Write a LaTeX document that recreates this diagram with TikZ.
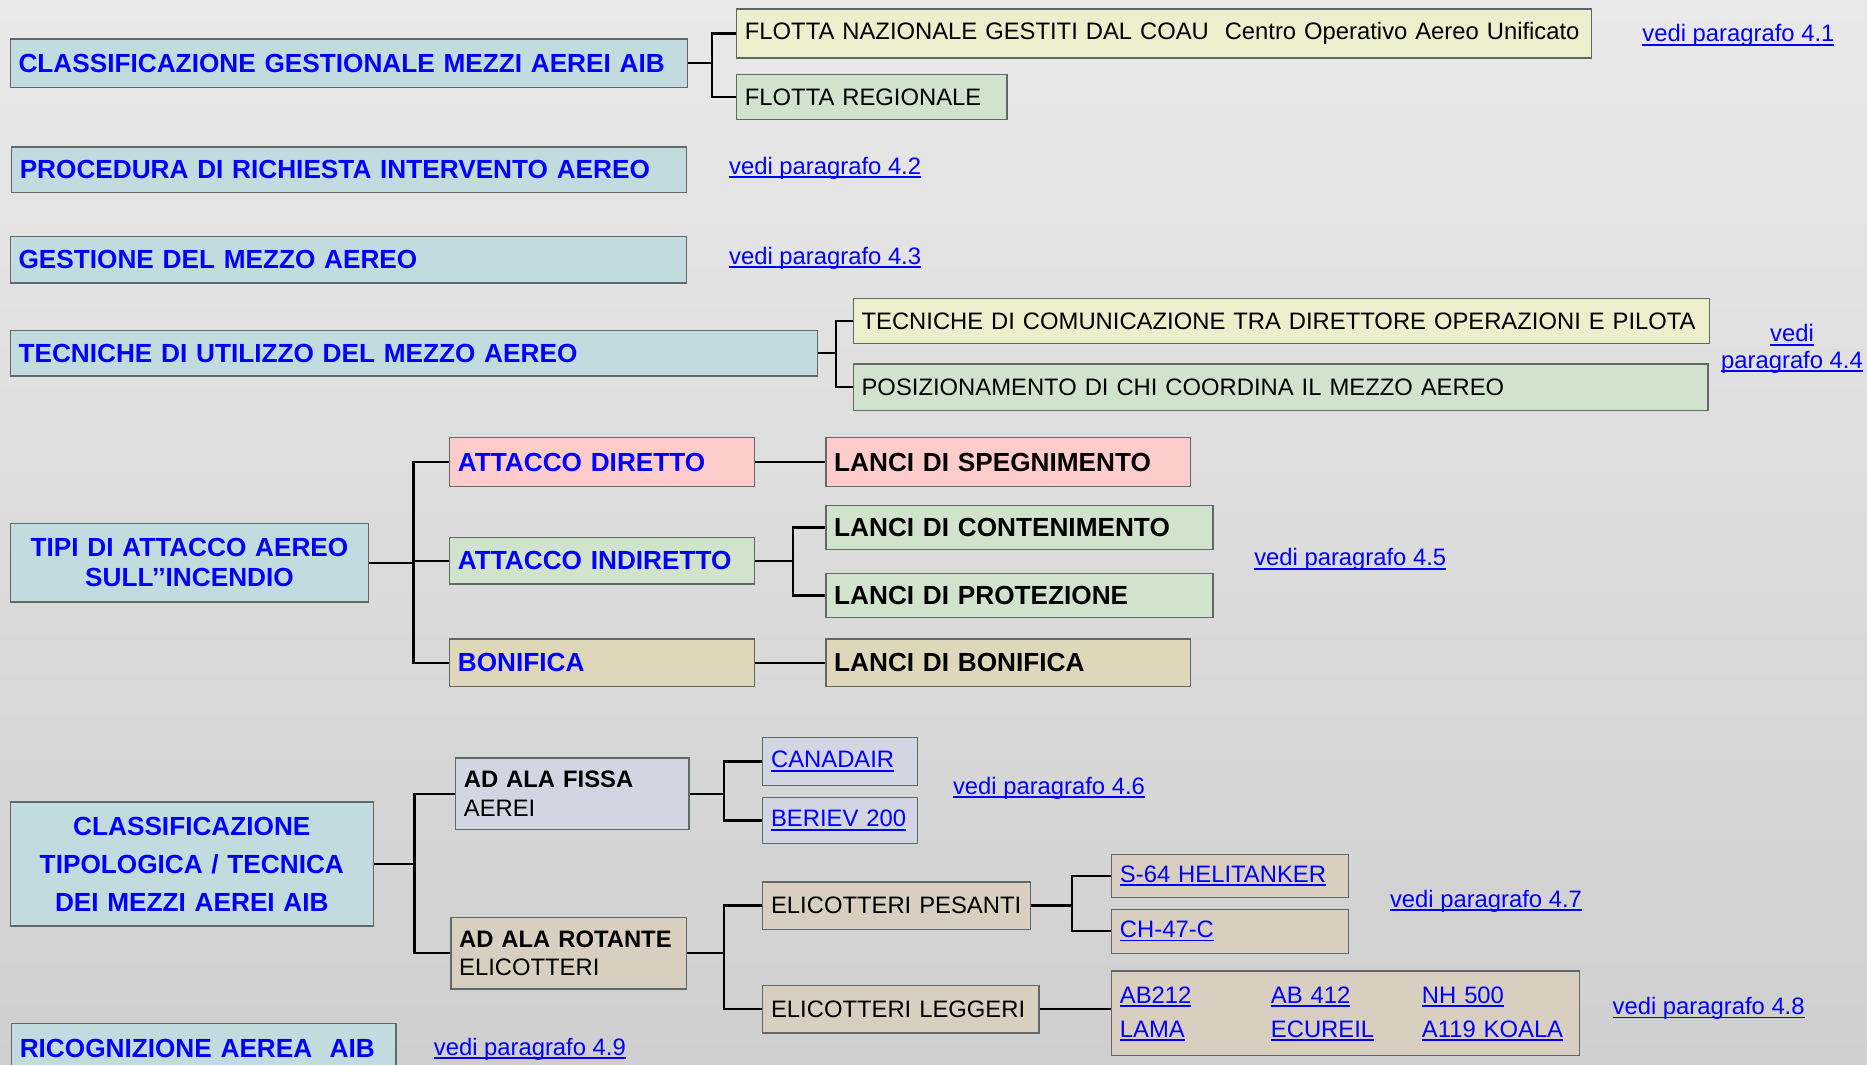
\documentclass[tikz,border=0pt]{standalone}
\usepackage{fontspec}
\setmainfont{Liberation Sans}
\definecolor{aibblue}{RGB}{0,0,255}
\definecolor{headfill}{RGB}{193,219,223}
\definecolor{boxline}{RGB}{96,104,104}
\definecolor{paleyellow}{RGB}{235,239,203}
\definecolor{palegreen}{RGB}{209,226,205}
\definecolor{palepink}{RGB}{255,204,204}
\definecolor{paletan}{RGB}{223,215,186}
\definecolor{palelilac}{RGB}{211,213,226}
\definecolor{palesand}{RGB}{216,207,192}
\definecolor{bgtop}{RGB}{233,233,233}
\definecolor{bgbottom}{RGB}{207,207,207}
\newcommand{\lnk}[1]{\leavevmode\setbox0=\hbox{#1}\rlap{\rule[-1.6pt]{\wd0}{0.8pt}}\box0}

\begin{document}
\begin{tikzpicture}[x=0.5pt,y=-0.5pt,
  box/.style={draw=boxline,line width=0.6pt,anchor=north west,inner xsep=3.5pt,
    inner ysep=0pt,align=left},
  head/.style={box,fill=headfill,text=aibblue,font=\bfseries\fontsize{11}{13}\selectfont},
  plainbox/.style={box,font=\fontsize{10}{12}\selectfont},
  boldbox/.style={box,font=\bfseries\fontsize{11}{13}\selectfont},
  dims/.style 2 args={minimum width=#1,minimum height=#2,text width=#1-7pt},
  reflink/.style={inner sep=0pt,anchor=west,text=aibblue,font=\fontsize{10}{11}\selectfont},
  conn/.style={line width=1pt}]
  % Background
  \useasboundingbox (0,0) rectangle (1568,894);
  \shade[top color=bgtop,bottom color=bgbottom] (0,0) rectangle (1568,894);
  \clip (0,0) rectangle (1568,894);
  % Management classes
  \node[head,dims={284.5pt}{20.5pt}] (cgest) at (8,32) {CLASSIFICAZIONE GESTIONALE MEZZI AEREI AIB};
  \node[plainbox,fill=paleyellow,dims={359pt}{20.5pt}] (fnaz) at (618,7)
    {FLOTTA NAZIONALE GESTITI DAL COAU~ Centro Operativo Aereo Unificato};
  \node[plainbox,fill=palegreen,dims={113.5pt}{19pt}] (freg) at (618,62) {FLOTTA REGIONALE};
  \node[reflink] (v41) at (1379,30) {\lnk{vedi paragrafo 4.1}};
  % Request and management
  \node[head,dims={283.5pt}{19pt}] (proc) at (9,123) {PROCEDURA DI RICHIESTA INTERVENTO AEREO};
  \node[reflink] (v42) at (612,141) {\lnk{vedi paragrafo 4.2}};
  \node[head,dims={284pt}{19.5pt}] (gest) at (8,198) {GESTIONE DEL MEZZO AEREO};
  \node[reflink] (v43) at (612,217) {\lnk{vedi paragrafo 4.3}};
  % Techniques
  \node[head,dims={339pt}{19pt}] (tecn) at (8,277) {TECNICHE DI UTILIZZO DEL MEZZO AEREO};
  \node[plainbox,fill=paleyellow,dims={359.5pt}{19pt}] (tcom) at (716,250)
    {TECNICHE DI COMUNICAZIONE TRA DIRETTORE OPERAZIONI E PILOTA};
  \node[plainbox,fill=palegreen,dims={359pt}{19.5pt}] (tpos) at (716,305)
    {POSIZIONAMENTO DI CHI COORDINA IL MEZZO AEREO};
  \node[reflink,anchor=center,align=center] (v44) at (1505,293) {\lnk{vedi}\\\lnk{paragrafo 4.4}};
  % Attack types
  \node[head,align=center,font=\bfseries\fontsize{11}{12.5}\selectfont,dims={150.5pt}{33pt}]
    (tipi) at (8,439) {TIPI DI ATTACCO AEREO\\SULL’{}’INCENDIO};
  \node[head,fill=palepink,dims={128pt}{20.5pt}] (adir) at (377,367) {ATTACCO DIRETTO};
  \node[head,fill=palegreen,dims={128pt}{19.5pt}] (aind) at (377,451) {ATTACCO INDIRETTO};
  \node[head,fill=paletan,dims={128pt}{20pt}] (bonif) at (377,536) {BONIFICA};
  \node[boldbox,fill=palepink,dims={153pt}{20.5pt}] (lspeg) at (693,367) {LANCI DI SPEGNIMENTO};
  \node[boldbox,fill=palegreen,dims={162.5pt}{18.5pt}] (lcont) at (693,424) {LANCI DI CONTENIMENTO};
  \node[boldbox,fill=palegreen,dims={162.5pt}{18.5pt}] (lprot) at (693,481) {LANCI DI PROTEZIONE};
  \node[boldbox,fill=paletan,dims={153pt}{20pt}] (lbon) at (693,536) {LANCI DI BONIFICA};
  \node[reflink] (v45) at (1053,470) {\lnk{vedi paragrafo 4.5}};
  % Aircraft types
  \node[head,align=center,font=\bfseries\fontsize{11}{16}\selectfont,dims={152.5pt}{52pt}]
    (ctipo) at (8,673) {CLASSIFICAZIONE\\TIPOLOGICA / TECNICA\\DEI MEZZI AEREI AIB};
  \node[plainbox,fill=palelilac,dims={98pt}{30pt}] (fissa) at (382,636) {\textbf{AD ALA FISSA}\\AEREI};
  \node[plainbox,fill=palesand,dims={99pt}{30pt}] (rot) at (378,770) {\textbf{AD ALA ROTANTE}\\ELICOTTERI};
  \node[plainbox,fill=palelilac,text=aibblue,dims={65pt}{20pt}] (cana) at (640,619) {\lnk{CANADAIR}};
  \node[plainbox,fill=palelilac,text=aibblue,dims={65pt}{19.5pt}] (beri) at (640,669) {\lnk{BERIEV 200}};
  \node[reflink] (v46) at (800,662) {\lnk{vedi paragrafo 4.6}};
  \node[plainbox,fill=palesand,dims={112.5pt}{20pt}] (pes) at (640,740) {ELICOTTERI PESANTI};
  \node[plainbox,fill=palesand,dims={116pt}{20pt}] (legg) at (640,827) {ELICOTTERI LEGGERI};
  \node[plainbox,fill=palesand,text=aibblue,dims={99.5pt}{18pt}] (s64) at (933,717) {\lnk{S-64 HELITANKER}};
  \node[plainbox,fill=palesand,text=aibblue,dims={99.5pt}{18.5pt}] (ch47) at (933,763) {\lnk{CH-47-C}};
  \node[reflink] (v47) at (1167,757) {\lnk{vedi paragrafo 4.7}};
  \node[plainbox,fill=palesand,text=aibblue,font=\fontsize{10}{14.5}\selectfont,dims={196.5pt}{35.5pt}]
    (light) at (933,815) {\raisebox{1.5pt}{\begin{tabular}{@{}p{63.4pt}@{}p{63.4pt}@{}l@{}}
      \lnk{AB212} & \lnk{AB 412} & \lnk{NH 500}\\
      \lnk{LAMA} & \lnk{ECUREIL} & \lnk{A119 KOALA}
    \end{tabular}}};
  \node[reflink] (v48) at (1354,847) {\lnk{vedi paragrafo 4.8}};
  % Reconnaissance
  \node[head,dims={161.5pt}{21pt}] (ricog) at (9,859) {RICOGNIZIONE AEREA~ AIB};
  \node[reflink] (v49) at (364,881) {\lnk{vedi paragrafo 4.9}};
  % Connectors
  \foreach \kid in {fnaz,freg} \draw[conn] (cgest.east) -- ++(20,0) |- (\kid.west);
  \foreach \kid in {tcom,tpos} \draw[conn] (tecn.east) -- ++(15,0) |- (\kid.west);
  \foreach \kid in {adir,aind,bonif} \draw[conn] (tipi.east) -- ++(37,0) |- (\kid.west);
  \draw[conn] (adir.east) -- (lspeg.west);
  \foreach \kid in {lcont,lprot} \draw[conn] (aind.east) -- ++(32,0) |- (\kid.west);
  \draw[conn] (bonif.east) -- (lbon.west);
  \foreach \kid in {fissa,rot} \draw[conn] (ctipo.east) -- ++(34,0) |- (\kid.west);
  \foreach \kid in {cana,beri} \draw[conn] (fissa.east) -- ++(29,0) |- (\kid.west);
  \foreach \kid in {pes,legg} \draw[conn] (rot.east) -- ++(31,0) |- (\kid.west);
  \foreach \kid in {s64,ch47} \draw[conn] (pes.east) -- ++(34,0) |- (\kid.west);
  \draw[conn] (legg.east) -- (legg.east -| light.west);
\end{tikzpicture}
\end{document}
